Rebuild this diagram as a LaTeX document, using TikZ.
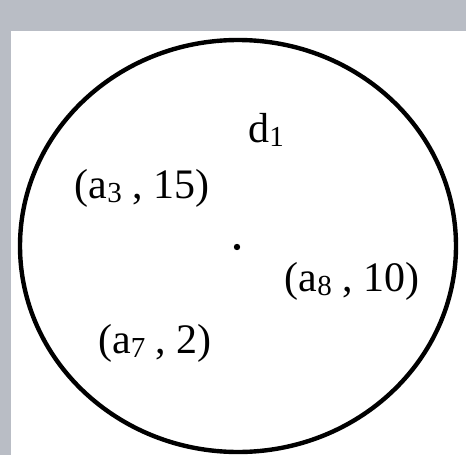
\documentclass[tikz,border=0pt]{standalone}
\usepackage{fontspec}
\setmainfont{Liberation Serif}
\usetikzlibrary{shapes.geometric}
\newcommand\lowsub[1]{\raisebox{-0.1em}{\fontsize{29}{33}\selectfont #1}}
\begin{document}
\begin{tikzpicture}[x=1pt,y=-1pt,
  lbl/.style={anchor=base,inner sep=0pt,font=\fontsize{42}{48}\selectfont}]
\useasboundingbox (0,0) rectangle (466,455);
\fill[fill={rgb,255:red,185;green,189;blue,197}] (0,0) rectangle (466,455);
\fill[white] (11,31) rectangle (466,455);
\node[draw=black,line width=4.4pt,ellipse,minimum width=436pt,minimum height=412pt,inner sep=0pt] (c) at (238,246) {};
\fill (237,247) circle (3.2pt);
\coordinate (ctr) at (237,247);
\node[lbl] (d) at (266,142) {d\lowsub{1}};
\node[lbl] (a3) at (142,198) {(a\lowsub{3} , 15)};
\node[lbl] (a8) at (352,291) {(a\lowsub{8} , 10)};
\node[lbl] (a7) at (155,353) {(a\lowsub{7} , 2)};
\end{tikzpicture}
\end{document}
